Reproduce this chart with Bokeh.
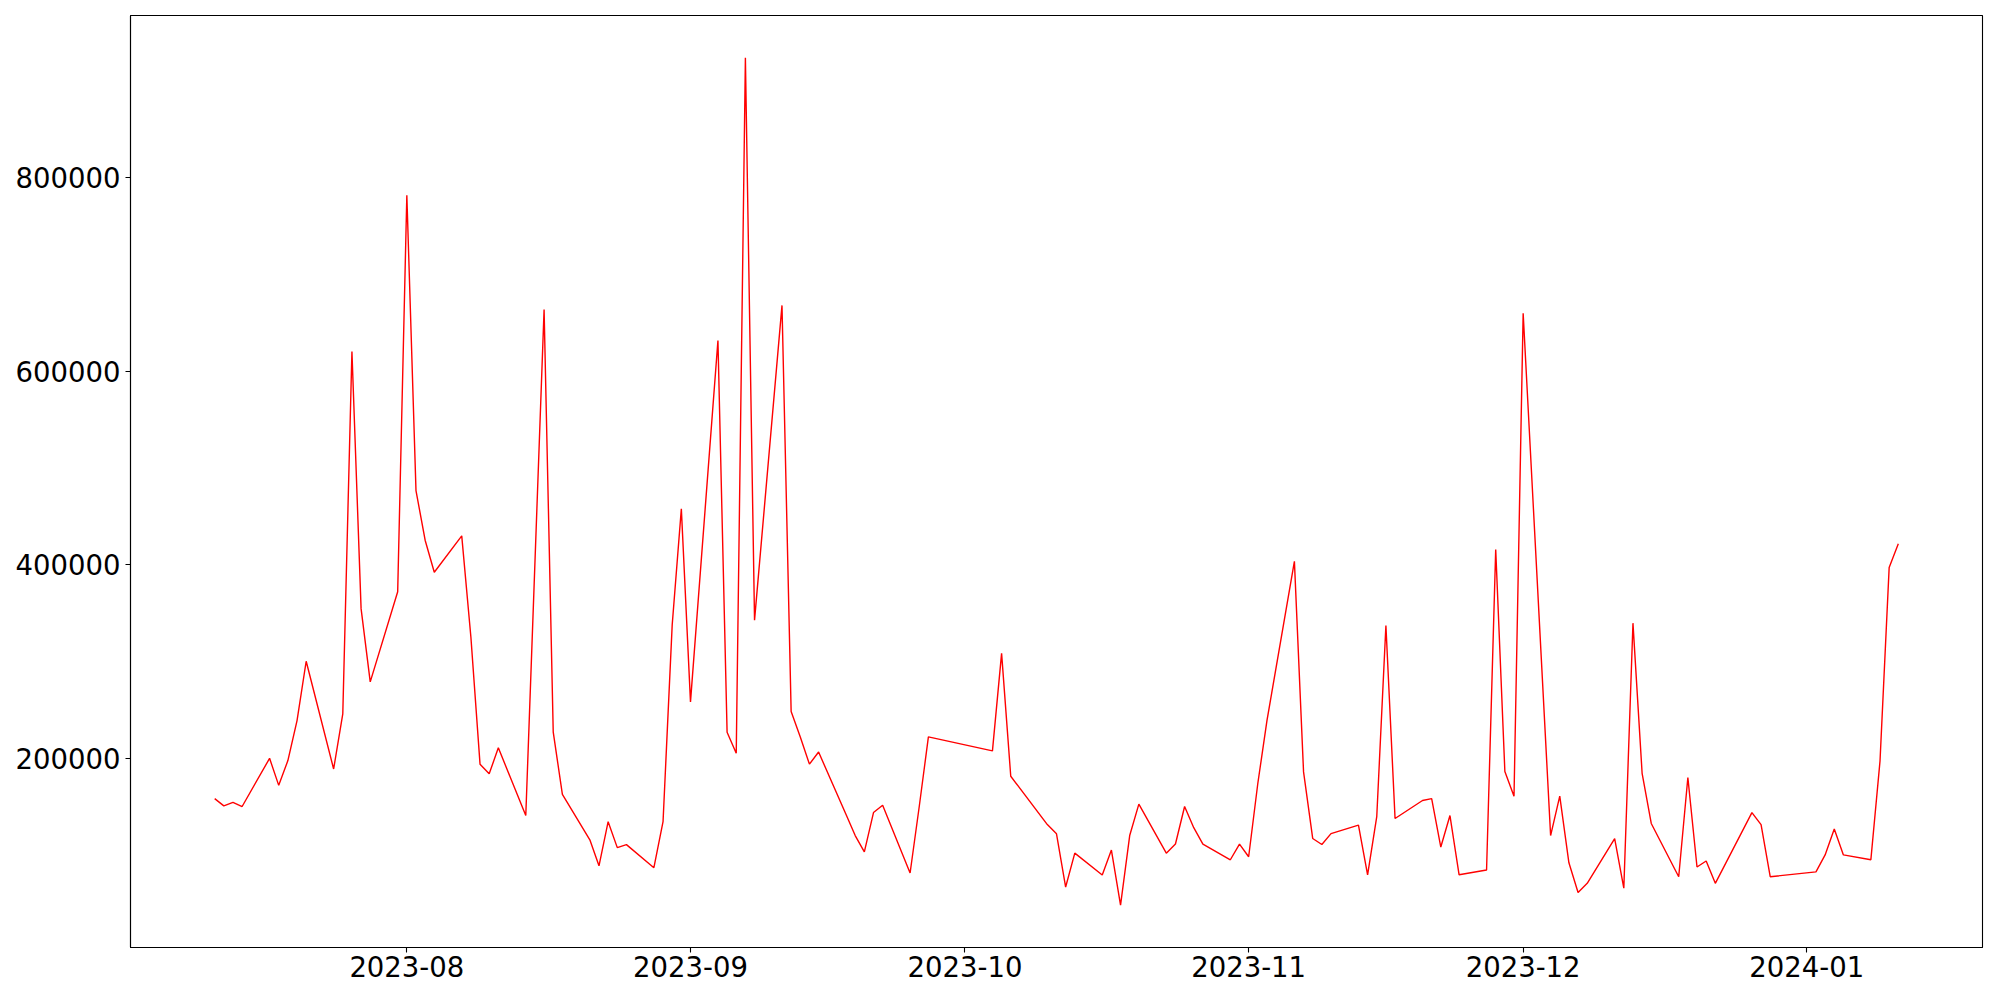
import pandas as pd
from bokeh.plotting import figure
from bokeh.models import Range1d, MonthsTicker, DatetimeTickFormatter, SingleIntervalTicker, NumeralTickFormatter
from bokeh.embed import file_html
from bokeh.resources import INLINE

dates = [
    "2023-07-11", "2023-07-12", "2023-07-13", "2023-07-14", "2023-07-17", "2023-07-18", "2023-07-19",
    "2023-07-20", "2023-07-21", "2023-07-24", "2023-07-25", "2023-07-26", "2023-07-27", "2023-07-28",
    "2023-07-31", "2023-08-01", "2023-08-02", "2023-08-03", "2023-08-04", "2023-08-07", "2023-08-08",
    "2023-08-09", "2023-08-10", "2023-08-11", "2023-08-14", "2023-08-16", "2023-08-17", "2023-08-18",
    "2023-08-21", "2023-08-22", "2023-08-23", "2023-08-24", "2023-08-25", "2023-08-28", "2023-08-29",
    "2023-08-30", "2023-08-31", "2023-09-01", "2023-09-04", "2023-09-05", "2023-09-06", "2023-09-07",
    "2023-09-08", "2023-09-11", "2023-09-12", "2023-09-13", "2023-09-14", "2023-09-15", "2023-09-18",
    "2023-09-19", "2023-09-20", "2023-09-21", "2023-09-22", "2023-09-25", "2023-09-26", "2023-09-27",
    "2023-10-04", "2023-10-05", "2023-10-06", "2023-10-10", "2023-10-11", "2023-10-12", "2023-10-13",
    "2023-10-16", "2023-10-17", "2023-10-18", "2023-10-19", "2023-10-20", "2023-10-23", "2023-10-24",
    "2023-10-25", "2023-10-26", "2023-10-27", "2023-10-30", "2023-10-31", "2023-11-01", "2023-11-02",
    "2023-11-03", "2023-11-06", "2023-11-07", "2023-11-08", "2023-11-09", "2023-11-10", "2023-11-13",
    "2023-11-14", "2023-11-15", "2023-11-16", "2023-11-17", "2023-11-20", "2023-11-21", "2023-11-22",
    "2023-11-23", "2023-11-24", "2023-11-27", "2023-11-28", "2023-11-29", "2023-11-30", "2023-12-01",
    "2023-12-04", "2023-12-05", "2023-12-06", "2023-12-07", "2023-12-08", "2023-12-11", "2023-12-12",
    "2023-12-13", "2023-12-14", "2023-12-15", "2023-12-18", "2023-12-19", "2023-12-20", "2023-12-21",
    "2023-12-22", "2023-12-26", "2023-12-27", "2023-12-28", "2024-01-02", "2024-01-03", "2024-01-04",
    "2024-01-05", "2024-01-08", "2024-01-09", "2024-01-10", "2024-01-11",
]

values = [
    158400, 150900, 154600, 150250, 200000, 172100, 197700,
    239000, 300250, 189000, 245900, 620200, 354600, 279000,
    372100, 781500, 476500, 425250, 392200, 429700, 325250,
    194000, 184000, 210900, 140900, 663400, 227000, 162800,
    115900, 89000, 134600, 107800, 110900, 87100, 134600,
    337750, 457750, 258300, 631500, 227000, 205250, 923400,
    342750, 667750, 248300, 222100, 194000, 206500, 142000,
    120250, 103400, 144000, 151600, 81600, 150250, 222100,
    207750, 308400, 181500, 131600, 122100, 67100, 102100,
    79600, 105250, 48400, 120250, 152750, 102100, 111500,
    150250, 128400, 111500, 95250, 111500, 98400, 174000,
    239000, 403400, 186000, 117250, 111000, 122250, 131000,
    79750, 139750, 337250, 137900, 156500, 158400, 108400,
    140900, 79750, 84750, 415750, 186500, 160900, 659600,
    120250, 160900, 92100, 61500, 70900, 117100, 65900,
    339600, 184600, 132750, 77750, 180250, 87750, 94000,
    70900, 144000, 131600, 77750, 82750, 100250, 127100,
    100250, 95250, 197250, 397200, 421600,
]

y_ticks_interval = 200000

x = pd.to_datetime(dates)
xmin, xmax = x.min(), x.max()
xpad = (xmax - xmin) * 0.05
ymin, ymax = min(values), max(values)
ypad = (ymax - ymin) * 0.05

p = figure(
    width=1984, height=984,
    x_axis_type="datetime",
    x_range=Range1d(xmin - xpad, xmax + xpad),
    y_range=Range1d(ymin - ypad, ymax + ypad),
    output_backend="svg", toolbar_location=None,
    min_border_left=130, min_border_right=2, min_border_top=15, min_border_bottom=37,
)

p.line(x, values, line_color="red", line_width=1.4)

p.xgrid.visible = False
p.ygrid.visible = False
p.outline_line_color = "black"
p.outline_line_alpha = 1
p.outline_line_width = 1.1

p.xaxis.ticker = MonthsTicker(months=list(range(1, 13)))
p.xaxis.formatter = DatetimeTickFormatter(months="%Y-%m", days="%Y-%m", years="%Y-%m")
p.yaxis.ticker = SingleIntervalTicker(interval=y_ticks_interval)
p.yaxis.formatter = NumeralTickFormatter(format="0")

for ax in (p.xaxis[0], p.yaxis[0]):
    ax.major_label_text_font = "DejaVu Sans"
    ax.major_label_text_font_size = "27.5px"
    ax.major_label_text_color = "black"
    ax.minor_tick_line_color = None
    ax.major_tick_out = 5
    ax.major_tick_in = 0
    ax.major_label_standoff = 5
    ax.axis_line_color = "black"
    ax.axis_line_width = 1.1
    ax.major_tick_line_width = 1.1

p.xaxis[0].major_label_standoff = 3

open("out.html", "w").write(file_html(p, INLINE))
